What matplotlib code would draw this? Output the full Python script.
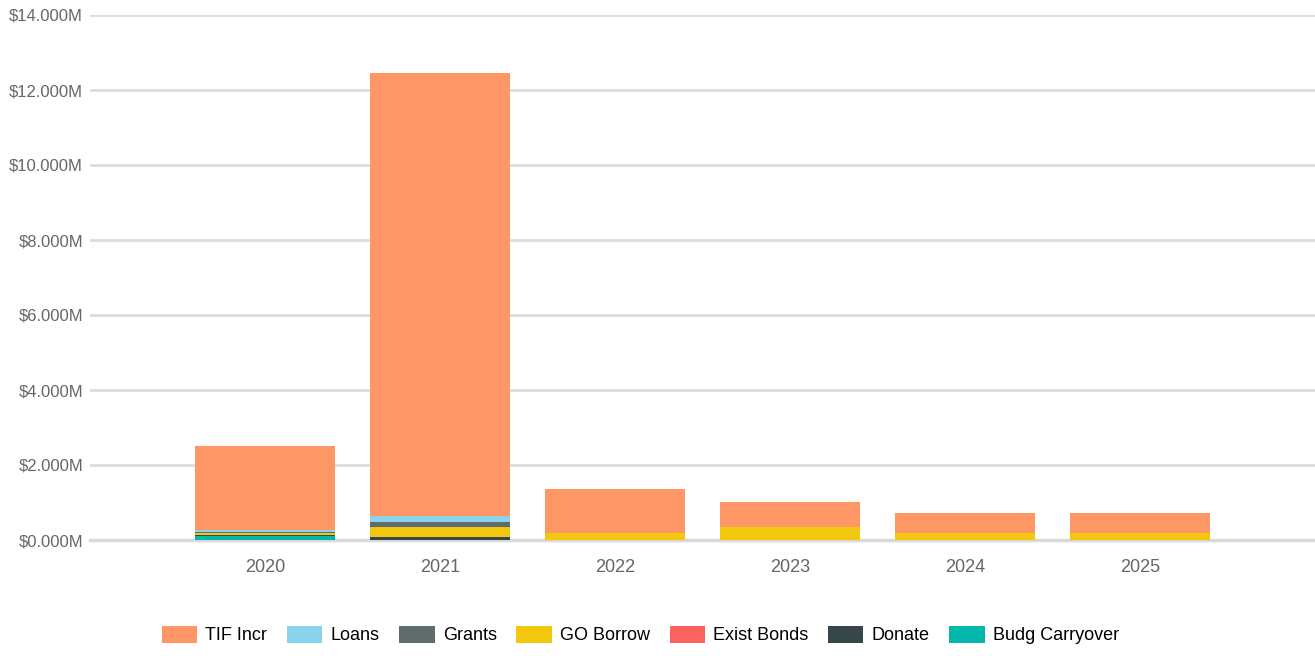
import numpy as np
import matplotlib.pyplot as plt
from matplotlib.ticker import FuncFormatter

# Data (millions of $)
years = ['2020', '2021', '2022', '2023', '2024', '2025']
tif_incr = [2.24, 11.80, 1.16, 0.65, 0.51, 0.51]
loans = [0.045, 0.18, 0, 0, 0, 0]
grants = [0.035, 0.11, 0, 0, 0, 0]
go_borrow = [0.045, 0.27, 0.20, 0.355, 0.20, 0.20]
exist_bonds = [0, 0, 0, 0, 0, 0]
donate = [0.02, 0.09, 0, 0, 0, 0]
budg_carryover = [0.11, 0, 0, 0, 0, 0]

plt.rcParams['font.family'] = ['Liberation Sans', 'DejaVu Sans']

# bottom to top
series = [
    ('Budg Carryover', budg_carryover, '#01B8AA'),
    ('Donate', donate, '#374649'),
    ('Exist Bonds', exist_bonds, '#FD625E'),
    ('GO Borrow', go_borrow, '#F2C80F'),
    ('Grants', grants, '#5F6B6D'),
    ('Loans', loans, '#8AD4EB'),
    ('TIF Incr', tif_incr, '#FE9666'),
]

fig = plt.figure(figsize=(13.15, 6.56), dpi=100)
ax = fig.add_axes([90 / 1315, 116 / 656, 1 - 90 / 1315, 525 / 656])

x = np.arange(len(years))
bottom = np.zeros(len(years))
handles = {}
for name, vals, col in series:
    v = np.array(vals, dtype=float)
    b = ax.bar(x, v, width=0.8, bottom=bottom, color=col, label=name, zorder=3)
    handles[name] = b
    bottom += v

ax.set_xlim(-1, 6)
ax.set_ylim(0, 14)
ax.set_yticks(np.arange(0, 15, 2))
ax.yaxis.set_major_formatter(FuncFormatter(lambda v, p: f'${v:.3f}M'))
ax.set_xticks(x)
ax.set_xticklabels(years)
ax.grid(axis='y', color='#dddddd', linewidth=2, zorder=0)
# baseline a bit stronger, not clipped
ax.axhline(0, color='#d9d9d9', linewidth=2.5, clip_on=False, zorder=2)
for s in ax.spines.values():
    s.set_visible(False)
ax.tick_params(length=0, labelsize=13, colors='#666666')
ax.tick_params(axis='y', labelsize=12, pad=5)
ax.tick_params(axis='x', pad=14)

order = ['TIF Incr', 'Loans', 'Grants', 'GO Borrow', 'Exist Bonds', 'Donate', 'Budg Carryover']
fig.legend([handles[n] for n in order], order, loc='center', bbox_to_anchor=(0.487, 0.032),
           ncol=7, frameon=False, fontsize=13, handlelength=1.95, handleheight=1.1,
           handletextpad=0.45, columnspacing=1.1)

fig.savefig('out.png', dpi=100)
